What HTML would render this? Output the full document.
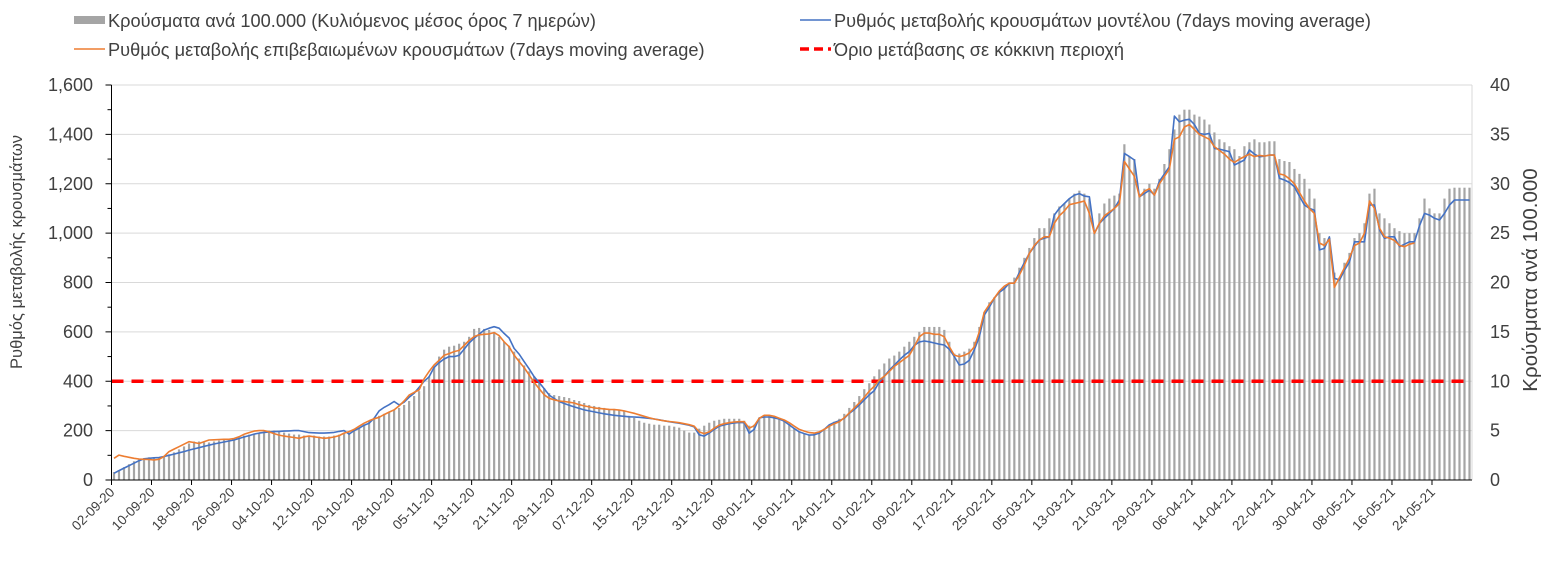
<!DOCTYPE html>
<html><head><meta charset="utf-8"><style>
body{margin:0;background:#fff;}
svg{display:block;font-family:"Liberation Sans",sans-serif;}
</style></head><body>
<svg id="chart" width="1557" height="574" viewBox="0 0 1557 574">
<g id="legend">
 <g><rect x="74" y="16" width="31" height="8" fill="#a5a5a5"/><text x="108" y="27" font-size="18.2" fill="#404040">Κρούσματα ανά 100.000 (Κυλιόμενος μέσος όρος 7 ημερών)</text></g>
 <g><line x1="800" y1="20" x2="831" y2="20" stroke="#4472c4" stroke-width="1.6"/><text x="834" y="27" font-size="18.2" fill="#404040">Ρυθμός μεταβολής κρουσμάτων μοντέλου (7days moving average)</text></g>
 <g><line x1="74" y1="49" x2="105" y2="49" stroke="#ed7d31" stroke-width="1.6"/><text x="108" y="56" font-size="18.2" fill="#404040">Ρυθμός μεταβολής επιβεβαιωμένων κρουσμάτων (7days moving average)</text></g>
 <g><line x1="800" y1="49" x2="831" y2="49" stroke="#ff0000" stroke-width="3.5" stroke-dasharray="9,5"/><text x="834" y="56" font-size="18.2" fill="#404040">Όριο μετάβασης σε κόκκινη περιοχή</text></g>
</g>
<text transform="translate(22,252) rotate(-90)" text-anchor="middle" font-size="16.5" fill="#404040">Ρυθμός μεταβολής κρουσμάτων</text>
<text transform="translate(1537,280) rotate(-90)" text-anchor="middle" font-size="20.5" fill="#404040">Κρούσματα ανά 100.000</text>
<g id="grid"></g><g id="bars"></g><g id="lines"></g><g id="axes"></g>
</svg>
<script>
const leftTicks=[0,200,400,600,800,1000,1200,1400,1600];
const rightTicks=[0,5,10,15,20,25,30,35,40];
const dateLabels=["02-09-20","10-09-20","18-09-20","26-09-20","04-10-20","12-10-20","20-10-20","28-10-20","05-11-20","13-11-20","21-11-20","29-11-20","07-12-20","15-12-20","23-12-20","31-12-20","08-01-21","16-01-21","24-01-21","01-02-21","09-02-21","17-02-21","25-02-21","05-03-21","13-03-21","21-03-21","29-03-21","06-04-21","14-04-21","22-04-21","30-04-21","08-05-21","16-05-21","24-05-21"];
const threshold=400;
const cases=[0.8,1.0,1.3,1.6,1.9,2.1,2.2,2.3,2.3,2.3,
2.4,2.6,2.8,3.1,3.4,3.7,3.9,3.9,3.8,3.8,
3.9,4.0,4.1,4.1,4.2,4.3,4.5,4.6,4.7,4.8,
4.9,5.0,5.0,4.9,4.8,4.7,4.6,4.6,4.5,4.5,
4.5,4.4,4.4,4.4,4.5,4.6,4.7,4.8,5.0,5.3,
5.6,6.0,6.3,6.5,6.7,6.9,7.1,7.3,7.6,8.0,
8.5,9.0,9.5,10.5,11.5,12.5,13.2,13.5,13.6,13.8,
14.0,14.5,15.3,15.4,15.3,15.2,15.0,14.5,14.0,13.6,
13.0,12.3,11.6,11.0,10.5,10.0,9.3,8.8,8.6,8.5,
8.4,8.3,8.1,8.0,7.8,7.6,7.5,7.4,7.3,7.2,
7.2,7.1,7.0,6.5,6.3,6.0,5.8,5.7,5.6,5.6,
5.5,5.5,5.4,5.3,5.0,4.8,4.8,5.2,5.5,5.8,
6.0,6.1,6.2,6.2,6.2,6.2,6.0,5.5,5.6,6.3,
6.5,6.5,6.4,6.3,6.0,5.7,5.2,4.9,4.7,4.6,
4.7,4.9,5.2,5.6,5.9,6.2,6.7,7.3,7.9,8.5,
9.2,9.8,10.5,11.2,11.8,12.3,12.6,13.0,13.5,14.0,
14.5,15.0,15.5,15.5,15.5,15.5,15.2,14.0,12.8,12.8,
13.0,13.3,14.0,15.5,17.0,18.0,18.5,19.0,19.5,20.0,
20.5,21.5,22.5,23.5,24.5,25.5,25.5,26.5,27.0,27.7,
28.0,28.5,29.0,29.3,29.0,28.5,25.0,27.0,28.0,28.5,
28.8,29.0,34.0,32.8,32.5,29.0,29.5,30.0,29.5,30.5,
32.0,33.5,35.5,37.0,37.5,37.5,37.0,36.8,36.5,36.0,
35.2,34.5,34.2,33.8,33.5,32.8,33.8,34.2,34.5,34.2,
34.2,34.3,34.3,32.5,32.3,32.2,31.5,31.0,30.5,29.5,
28.5,25.0,24.5,24.5,21.0,20.5,22.0,23.0,24.5,25.0,
26.0,29.0,29.5,27.0,26.5,26.0,25.5,25.2,25.0,25.0,
25.0,26.5,28.5,27.5,27.0,27.0,28.5,29.5,29.6,29.6,
29.6,29.6];
const model=[27,38,48,58,68,78,86,88,90,91,
95,100,105,110,115,121,126,131,136,141,
146,150,154,158,162,168,174,180,186,190,
193,195,196,197,198,199,200,200,196,192,
191,190,190,191,193,197,200,186,200,210,
222,230,250,280,294,305,318,304,315,335,
351,375,400,418,456,475,490,500,500,505,
530,555,574,590,607,615,621,615,594,575,
533,510,479,450,418,395,370,344,330,318,
310,303,296,290,284,280,276,272,268,265,
262,260,258,256,255,254,252,250,247,244,
240,236,233,230,226,222,215,183,178,190,
205,218,223,228,231,233,232,190,205,251,
255,255,252,247,238,223,208,195,188,182,
183,190,205,223,233,240,250,270,285,304,
325,345,362,397,420,445,465,486,505,520,
545,559,563,560,555,550,547,530,500,466,
470,485,527,580,668,700,737,760,775,797,
797,840,880,918,945,972,980,985,1073,1100,
1120,1140,1154,1160,1150,1147,999,1039,1060,1080,
1100,1134,1323,1310,1296,1147,1160,1174,1154,1210,
1240,1269,1474,1451,1458,1461,1440,1404,1400,1404,
1343,1340,1335,1330,1276,1286,1296,1337,1320,1309,
1312,1316,1316,1222,1215,1205,1188,1150,1114,1100,
1093,932,938,985,817,810,850,884,965,965,
965,1114,1114,1013,979,985,985,945,955,965,
965,1030,1080,1073,1060,1053,1080,1114,1134,1134,
1134,1134];
const confirmed=[88,101,96,92,88,85,84,83,81,84,
95,115,125,135,145,155,152,148,155,162,
163,164,165,165,168,175,185,192,198,200,
200,195,188,182,178,175,172,169,175,178,
175,172,169,171,174,180,190,196,205,218,
230,240,248,254,265,275,284,300,320,344,
355,365,410,440,466,485,505,512,520,525,
545,565,581,588,590,592,597,585,560,540,
506,480,455,425,395,370,345,331,325,320,
318,315,312,305,300,296,292,290,288,286,
285,283,280,275,270,264,258,252,247,243,
240,237,235,232,228,224,218,195,188,195,
210,222,228,232,235,236,236,210,220,250,
262,262,258,250,243,232,218,205,198,192,
190,195,205,218,228,236,252,272,292,312,
335,360,380,405,420,440,460,475,490,505,
540,580,595,595,590,590,580,540,506,500,
505,515,540,600,680,710,737,765,785,797,
797,830,870,918,950,972,985,985,1040,1070,
1090,1115,1120,1125,1130,1080,999,1040,1070,1085,
1100,1120,1290,1260,1230,1147,1170,1180,1154,1200,
1230,1260,1380,1390,1430,1440,1420,1400,1390,1380,
1350,1335,1320,1300,1286,1300,1310,1320,1310,1315,
1312,1316,1316,1240,1235,1220,1200,1165,1130,1100,
1080,960,950,975,780,820,860,900,950,960,
1000,1130,1100,1020,985,980,970,950,945,955,
960];

const NS="http://www.w3.org/2000/svg";
const X0=111.5,X1=1472,Y0=480,Y1=85,N=cases.length;
const step=(X1-X0)/N;
const xBand=i=>X0+step*i;
const xC=i=>X0+step*(i+0.5);
const yL=v=>Y0-(v/1600)*(Y0-Y1);
const yR=v=>Y0-(v/40)*(Y0-Y1);
function mk(tag,attrs,parent){const e=document.createElementNS(NS,tag);for(const k in attrs)e.setAttribute(k,attrs[k]);parent.appendChild(e);return e;}
const grid=document.getElementById('grid'),bars=document.getElementById('bars'),lines=document.getElementById('lines'),axes=document.getElementById('axes');
leftTicks.forEach(t=>{
 if(t>0){const g=mk('line',{x1:X0,x2:X1,y1:yL(t),y2:yL(t),stroke:'#d9d9d9','stroke-width':1},grid);
 
 }
 const tx=mk('text',{x:93,y:yL(t)+6,'text-anchor':'end','font-size':18,fill:'#404040'},axes);
 tx.textContent=t.toLocaleString('en-US');
 
 
 mk('line',{x1:X0-6,x2:X0,y1:yL(t),y2:yL(t),stroke:'#000','stroke-width':1},axes);
 if(t<1600){mk('line',{x1:X0-4,x2:X0,y1:yL(t+100),y2:yL(t+100),stroke:'#000','stroke-width':1},axes);}
});
rightTicks.forEach(t=>{
 const tx=mk('text',{x:1490,y:yR(t)+6,'font-size':18,fill:'#404040'},axes);
 tx.textContent=t;
 
 
});
cases.forEach((v,i)=>{
 const r=mk('rect',{x:xC(i)-1.1,y:yR(v),width:2.2,height:Y0-yR(v),fill:'#a5a5a5'},bars);
 
 
});
function path(arr){let d='';arr.forEach((v,i)=>{if(v==null)return;d+=(d?'L':'M')+xC(i).toFixed(1)+','+yL(v).toFixed(1);});return d;}
const th=mk('line',{x1:X0,x2:X1,y1:yL(threshold),y2:yL(threshold),stroke:'#ff0000','stroke-width':3.5,'stroke-dasharray':'12,8'},lines);


const pm=mk('path',{d:path(model),fill:'none',stroke:'#4472c4','stroke-width':1.6,'stroke-linejoin':'round'},lines);


const pc=mk('path',{d:path(confirmed),fill:'none',stroke:'#ed7d31','stroke-width':1.6,'stroke-linejoin':'round'},lines);


mk('line',{x1:X0,x2:X0,y1:Y1,y2:Y0,stroke:'#000','stroke-width':1},axes);
mk('line',{x1:X1,x2:X1,y1:Y1,y2:Y0,stroke:'#d9d9d9','stroke-width':1},axes);
mk('line',{x1:X0,x2:X1,y1:Y0,y2:Y0,stroke:'#000','stroke-width':1},axes);
dateLabels.forEach((d,k)=>{
 const x=xBand(k*8);
 mk('line',{x1:x,x2:x,y1:Y0,y2:Y0+5,stroke:'#000','stroke-width':1},axes);
 const tx=mk('text',{transform:`translate(${x+4},${Y0+13}) rotate(-45)`,'text-anchor':'end','font-size':13.5,fill:'#404040'},axes);
 tx.textContent=d;
 
 
});
</script>
</body></html>
